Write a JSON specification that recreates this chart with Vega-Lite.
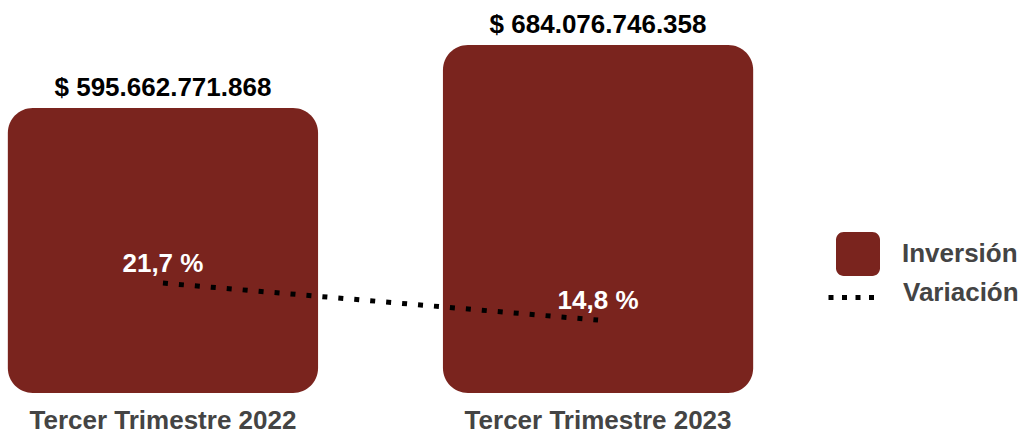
{
  "$schema": "https://vega.github.io/schema/vega-lite/v6.json",
  "width": 761,
  "height": 393,
  "padding": {"left": 0, "top": 0, "right": 0, "bottom": 0},
  "background": "white",
  "config": {
    "view": {"stroke": null},
    "font": "Liberation Sans",
    "locale": {"number": {"decimal": ",", "thousands": ".", "grouping": [3], "currency": ["$ ", ""]}}
  },
  "data": {
    "values": [
      {"periodo": "Tercer Trimestre 2022", "inversion": 595662771868, "variacion": 21.7},
      {"periodo": "Tercer Trimestre 2023", "inversion": 684076746358, "variacion": 14.8}
    ]
  },
  "transform": [
    {"calculate": "format(datum.variacion, '.1f') + ' %'", "as": "variacion_txt"}
  ],
  "encoding": {
    "x": {
      "field": "periodo",
      "type": "nominal",
      "sort": null,
      "scale": {"paddingInner": 0.287, "paddingOuter": 0.018},
      "axis": {
        "title": null,
        "labelAngle": 0,
        "domain": false,
        "ticks": false,
        "labelLimit": 0,
        "labelFont": "Liberation Sans",
        "labelFontSize": 26,
        "labelFontWeight": "bold",
        "labelColor": "#444444",
        "labelPadding": 14
      }
    }
  },
  "layer": [
    {
      "mark": {"type": "bar", "cornerRadius": 25},
      "encoding": {
        "y": {"field": "inversion", "type": "quantitative", "scale": {"domain": [195700000000, 747200000000], "zero": false, "nice": false}, "axis": null},
        "y2": {"datum": 195700000000},
        "fill": {
          "datum": "Inversión",
          "type": "nominal",
          "scale": {"range": ["#7A241E"]},
          "legend": {
            "orient": "none",
            "legendX": 836,
            "legendY": 232,
            "title": null,
            "padding": 0,
            "symbolType": "M-0.65,-1 H0.65 A0.35,0.35 0 0 1 1,-0.65 V0.65 A0.35,0.35 0 0 1 0.65,1 H-0.65 A0.35,0.35 0 0 1 -1,0.65 V-0.65 A0.35,0.35 0 0 1 -0.65,-1 Z",
            "symbolSize": 1936,
            "symbolStrokeWidth": 0,
            "symbolOpacity": 1,
            "labelOffset": 22,
            "labelFont": "Liberation Sans",
            "labelFontSize": 26,
            "labelFontWeight": "bold",
            "labelColor": "#444444",
            "encode": {"symbols": {"update": {"fill": {"value": "#8E2A22"}, "opacity": {"value": 1}}}}
          }
        }
      }
    },
    {
      "mark": {"type": "text", "dy": -20, "fontSize": 26, "fontWeight": "bold", "color": "#000000", "font": "Liberation Sans"},
      "encoding": {
        "y": {"field": "inversion", "type": "quantitative", "scale": {"domain": [195700000000, 747200000000], "zero": false, "nice": false}, "axis": null},
        "text": {"field": "inversion", "type": "quantitative", "format": "$,.0f"}
      }
    },
    {
      "mark": {"type": "line", "strokeWidth": 5, "strokeDash": [5, 11], "strokeCap": "butt"},
      "encoding": {
        "y": {"field": "variacion", "type": "quantitative", "scale": {"domain": [1.2, 74.5], "zero": false, "nice": false}, "axis": null},
        "stroke": {
          "datum": "Variación",
          "type": "nominal",
          "scale": {"range": ["#000000"]},
          "legend": {
            "orient": "none",
            "legendX": 826,
            "legendY": 270,
            "title": null,
            "padding": 0,
            "symbolType": "stroke",
            "symbolSize": 2500,
            "symbolStrokeWidth": 5,
            "symbolDash": [5, 8.5],
            "labelOffset": 22,
            "labelFont": "Liberation Sans",
            "labelFontSize": 26,
            "labelFontWeight": "bold",
            "labelColor": "#444444",
            "encode": {"labels": {"update": {"dy": {"value": -5}}}}
          }
        }
      }
    },
    {
      "mark": {"type": "text", "dy": -19, "fontSize": 26, "fontWeight": "bold", "color": "#ffffff", "font": "Liberation Sans"},
      "encoding": {
        "y": {"field": "variacion", "type": "quantitative", "scale": {"domain": [1.2, 74.5], "zero": false, "nice": false}, "axis": null},
        "text": {"field": "variacion_txt", "type": "nominal"}
      }
    }
  ],
  "resolve": {"scale": {"y": "independent", "fill": "independent", "stroke": "independent"}}
}
